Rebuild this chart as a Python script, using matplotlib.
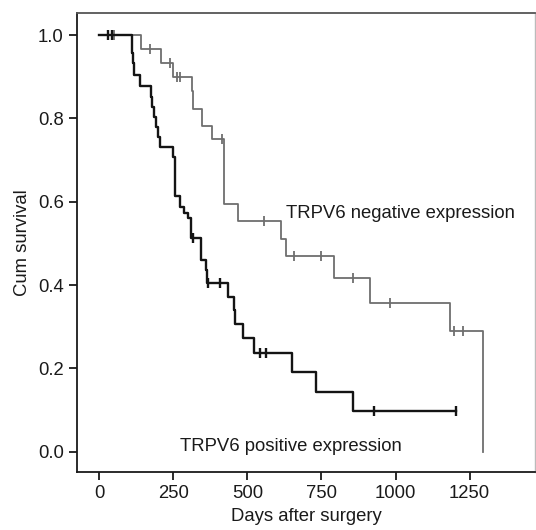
import matplotlib
matplotlib.use("Agg")
import matplotlib.pyplot as plt
import numpy as np

plt.rcParams['font.family'] = ['Liberation Sans', 'DejaVu Sans']

# TRPV6 negative expression (grey curve)
neg_times = [0, 141, 208, 248, 314, 318, 346, 380, 422, 468, 615, 630, 792, 915, 1185, 1294]
neg_surv = [1.0, 0.966, 0.933, 0.899, 0.866, 0.822, 0.781, 0.750, 0.594, 0.553,
            0.510, 0.470, 0.418, 0.358, 0.289, 0.0]
neg_censor = [50, 171, 238, 262, 272, 415, 556, 657, 747, 858, 982, 1198, 1227]

# TRPV6 positive expression (black curve)
pos_times = [0, 112, 115, 118, 137, 174, 179, 184, 190, 199, 205, 250, 257, 272, 286,
             300, 311, 345, 362, 364, 434, 455, 457, 486, 521, 649, 730, 858]
pos_surv = [1.0, 0.956, 0.932, 0.904, 0.878, 0.852, 0.828, 0.804, 0.780, 0.756, 0.732,
            0.708, 0.613, 0.588, 0.572, 0.562, 0.512, 0.460, 0.436, 0.405, 0.372, 0.340,
            0.306, 0.272, 0.238, 0.192, 0.144, 0.098]
pos_censor = [30, 43, 316, 367, 407, 544, 564, 929, 1205]

x_ticks = [0, 250, 500, 750, 1000, 1250]
y_ticks = [0.0, 0.2, 0.4, 0.6, 0.8, 1.0]

FS = 13.3


def draw_curve(ax, times, surv, censor, color, lw):
    t = list(times)
    s = list(surv)
    if censor[-1] > t[-1]:
        t.append(censor[-1])
        s.append(s[-1])
    ax.step(t, s, where='post', color=color, lw=lw)
    idx = np.searchsorted(times, censor, side='right') - 1
    cy = np.array(surv)[idx]
    ax.plot(censor, cy, linestyle='none', marker='|', markersize=6.5,
            markeredgewidth=lw, color=color)


fig = plt.figure(figsize=(5.36, 5.30), dpi=100)
ax = fig.add_axes([0.1437, 0.1094, 0.854, 0.866])

draw_curve(ax, neg_times, neg_surv, neg_censor, '#6e6e6e', 1.3)
draw_curve(ax, pos_times, pos_surv, pos_censor, '#141414', 1.7)

ax.text(631, 0.572, 'TRPV6 negative expression', fontsize=FS, va='center', ha='left',
        color='#1a1a1a')
ax.text(646, 0.013, 'TRPV6 positive expression', fontsize=FS, va='center', ha='center',
        color='#1a1a1a')

ax.set_xlim(-75, 1470)
ax.set_ylim(-0.0485, 1.053)
ax.set_xticks(x_ticks)
ax.set_yticks(y_ticks)
ax.set_yticklabels([f'{v:.1f}' for v in y_ticks])
ax.tick_params(direction='out', length=5.5, width=1.3, pad=4, labelsize=FS,
               colors='#1a1a1a')
ax.set_xlabel('Days after surgery', fontsize=FS, color='#1a1a1a', labelpad=4)
ax.set_ylabel('Cum survival', fontsize=FS, color='#1a1a1a', labelpad=5)

for side in ['left', 'bottom']:
    ax.spines[side].set_linewidth(1.3)
    ax.spines[side].set_color('#1a1a1a')
ax.spines['top'].set_linewidth(1.3)
ax.spines['top'].set_color('#555555')
ax.spines['right'].set_linewidth(1.0)
ax.spines['right'].set_color('#bbbbbb')

fig.savefig('out.png', dpi=100)
